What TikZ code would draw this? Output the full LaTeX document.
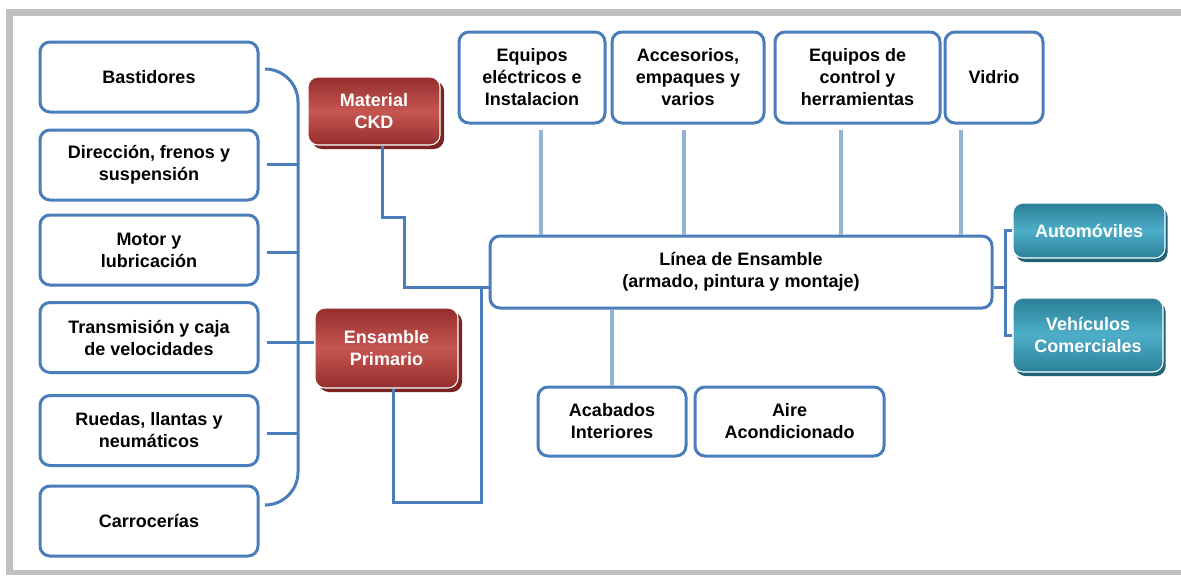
\documentclass[tikz,border=0pt]{standalone}
\usepackage{fontspec}
\setmainfont{Liberation Sans}
\usetikzlibrary{calc,shadows}

\definecolor{azulLinea}{RGB}{74,126,187}
\definecolor{azulClaro}{RGB}{149,179,215}
\definecolor{rojoOscuro}{RGB}{148,46,44}
\definecolor{rojoClaro}{RGB}{198,86,82}
\definecolor{sombraRoja}{RGB}{122,36,34}
\definecolor{tealOscuro}{RGB}{42,128,152}
\definecolor{tealClaro}{RGB}{78,174,200}
\definecolor{sombraTeal}{RGB}{32,98,118}
\definecolor{marcoGris}{RGB}{192,192,192}

\begin{document}
\begin{tikzpicture}[x=0.75pt,y=0.75pt,yscale=-1,xscale=1,
  font=\fontsize{13.5}{16.5}\selectfont\bfseries,
  caja/.style={draw=azulLinea, line width=2.25pt, rounded corners=7.5pt, fill=white, align=center, inner sep=0pt},
  rojo/.style={draw=white, line width=0.8pt, rounded corners=7.5pt, top color=rojoOscuro, bottom color=rojoOscuro, middle color=rojoClaro, text=white, align=center, inner sep=0pt,
    drop shadow={shadow xshift=3pt, shadow yshift=-3pt, fill=sombraRoja, opacity=1}},
  teal/.style={draw=white, line width=0.8pt, rounded corners=7.5pt, top color=tealOscuro, bottom color=tealOscuro, middle color=tealClaro, text=white, align=center, inner sep=0pt,
    drop shadow={shadow xshift=2pt, shadow yshift=-3pt, fill=sombraTeal, opacity=1}},
  linea/.style={draw=azulLinea, line width=2.25pt},
  conector/.style={draw=azulClaro, line width=2.4pt}]
\useasboundingbox (0,0) rectangle (1181,575);

%Frame
\fill [marcoGris] (6,9) rectangle (1181,575);
\fill [white] (13,16) rectangle (1181,570);

% Left column
\node [caja, minimum width=163.5pt, minimum height=52.5pt] (bastidores) at (149,77) {Bastidores};
\node [caja, minimum width=163.5pt, minimum height=52.5pt] (direccion) at (149,165) {Dirección, frenos y\\suspensión};
\node [caja, minimum width=163.5pt, minimum height=52.5pt] (motor) at (149,250) {Motor y\\lubricación};
\node [caja, minimum width=163.5pt, minimum height=52.5pt] (transmision) at (149,337.5) {Transmisión y caja\\de velocidades};
\node [caja, minimum width=163.5pt, minimum height=52.5pt] (ruedas) at (149,430.5) {Ruedas, llantas y\\neumáticos};
\node [caja, minimum width=163.5pt, minimum height=52.5pt] (carrocerias) at (149,521) {Carrocerías};

% Red boxes
\node [rojo, minimum width=99pt, minimum height=51pt] (ckd) at (374,111) {Material\\CKD};
\node [rojo, minimum width=107.25pt, minimum height=60pt] (ensamble) at (386.5,348) {Ensamble\\Primario};

% Top row
\node [caja, minimum width=109.5pt, minimum height=68.25pt] (eqelec) at (532,77.5) {Equipos\\eléctricos e\\Instalacion};
\node [caja, minimum width=114pt, minimum height=68.25pt] (accesorios) at (688,77.5) {Accesorios,\\empaques y\\varios};
\node [caja, minimum width=123.75pt, minimum height=68.25pt] (eqcontrol) at (857.5,77.5) {Equipos de\\control y\\herramientas};
\node [caja, minimum width=73.5pt, minimum height=68.25pt] (vidrio) at (994,77.5) {Vidrio};

% Centre
\node [caja, minimum width=376.5pt, minimum height=54pt] (linea) at (741,272) {Línea de Ensamble\\(armado, pintura y montaje)};
\node [caja, minimum width=111pt, minimum height=51.75pt] (acabados) at (612,421.5) {Acabados\\Interiores};
\node [caja, minimum width=141.75pt, minimum height=51.75pt] (aire) at (789.5,421.5) {Aire\\Acondicionado};

% Right
\node [teal, minimum width=114pt, minimum height=41.25pt] (auto) at (1089,230.5) {Automóviles};
\node [teal, minimum width=112.5pt, minimum height=55.5pt] (vehiculos) at (1088,335) {Vehículos\\Comerciales};

% Joints
\coordinate (bracket) at (298,300);
\coordinate (quiebre) at (404,217);
\coordinate (entrada) at (481,287);
\coordinate (base) at (481,502);
\coordinate (jder) at (1005,287);
\coordinate (ramaD) at ($(direccion.east)+(7,-1)$);
\coordinate (ramaM) at ($(motor.east)+(7,2)$);
\coordinate (ramaT) at ($(transmision.east)+(7,4.5)$);
\coordinate (ramaR) at ($(ruedas.east)+(7,2.5)$);
\coordinate (bajaE) at ($(eqelec.south)+(9,5)$);
\coordinate (bajaA) at ($(accesorios.south)+(-4,5)$);
\coordinate (bajaC) at ($(eqcontrol.south)+(-16.5,5)$);
\coordinate (bajaV) at ($(vidrio.south)+(-33,5)$);

%Bracket
\draw [linea, rounded corners=24.75pt] ($(bastidores.east)+(7,-8)$) -| (bracket) |- ($(carrocerias.east)+(7,-16)$);
\draw [linea] (ramaD) -- (ramaD -| bracket);
\draw [linea] (ramaM) -- (ramaM -| bracket);
\draw [linea] (ramaT) -- (ramaT -| ensamble.west);
\draw [linea] (ramaR) -- (ramaR -| bracket);

%Into the assembly line
\draw [linea] ($(ckd.south)+(8,0)$) |- (quiebre) |- (entrada -| linea.west);
\draw [linea] ($(ensamble.south)+(6.5,0)$) |- (base) -- (entrada);
\draw [linea] (entrada -| linea.east) -- (jder);
\draw [linea] (auto.west) -| (jder) |- (vehiculos.west);

%Light connectors
\draw [conector] (bajaE) -- (bajaE |- linea.north);
\draw [conector] (bajaA) -- (bajaA |- linea.north);
\draw [conector] (bajaC) -- (bajaC |- linea.north);
\draw [conector] (bajaV) -- (bajaV |- linea.north);
\draw [conector] (linea.south -| acabados.north) -- (acabados.north);

\end{tikzpicture}
\end{document}
